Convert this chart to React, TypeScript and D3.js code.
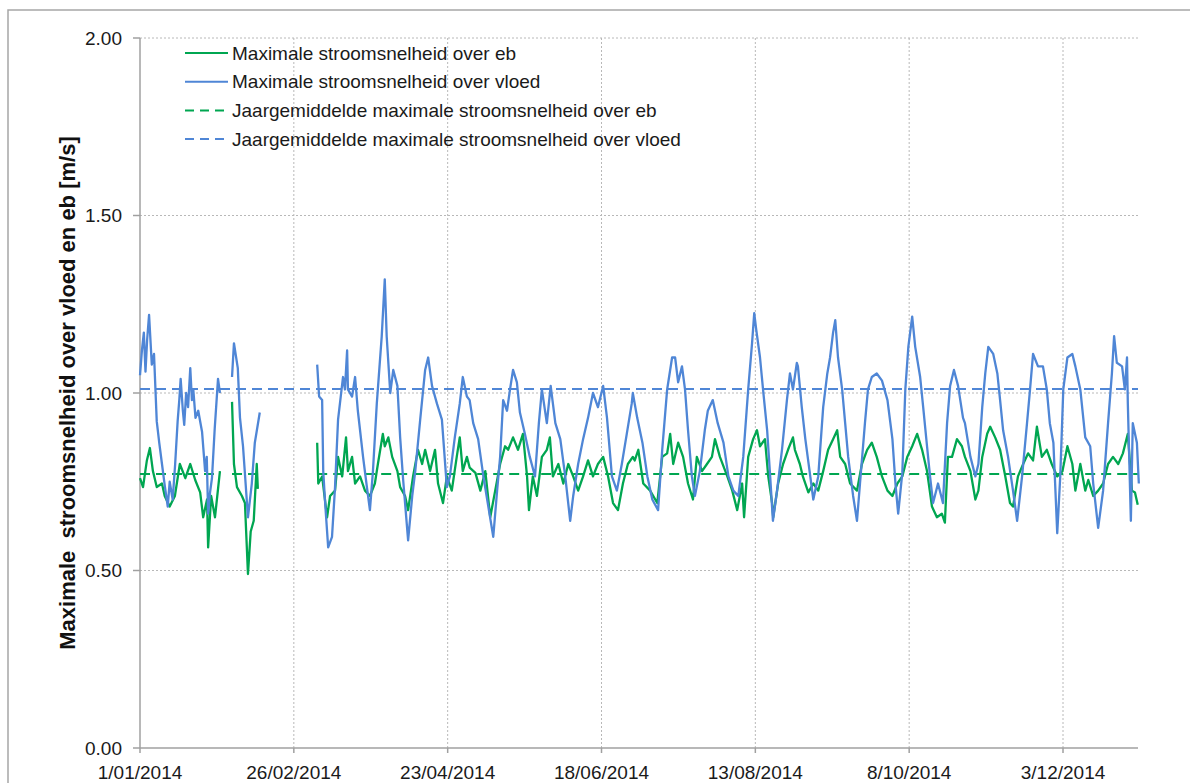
import React from "react";
import * as d3 from "d3";

// ---------- DATA (day offset from 1 Jan 2014, value in m/s) ----------
const tickDates = ["2014-01-01", "2014-02-26", "2014-04-23", "2014-06-18", "2014-08-13", "2014-10-08", "2014-12-03"];
const yTicks = [0, 0.5, 1.0, 1.5, 2.0];
const lastDay = 363.3;

const meanEb = 0.772;
const meanVloed = 1.011;

// data coverage (day ranges) of the eb / vloed records
const coverage: [number, number][] = [[0, 29.1], [33.5, 43.6], [64.5, 363.6]];

const vloed: ([number, number] | null)[] = [
  [0, 1.05], [0.7, 1.12], [1.4, 1.17], [2, 1.06], [2.6, 1.15], [3.3, 1.22], [4.3, 1.08], [5.1, 1.11], [6.1, 0.92], [7, 0.86],
  [8, 0.8], [9, 0.74], [10.1, 0.68], [10.8, 0.75], [11.9, 0.7], [12.8, 0.8], [13.7, 0.92], [14.3, 0.98], [14.8, 1.04], [15.6, 0.95],
  [16.1, 0.91], [16.8, 1.0], [17.5, 0.96], [18.3, 1.07], [18.9, 0.98], [19.4, 1.01], [20.2, 0.93], [21.2, 0.95], [22.6, 0.89], [23.7, 0.78],
  [24.3, 0.82], [24.8, 0.66], [25.5, 0.72], [26.2, 0.76], [27.2, 0.9], [28.4, 1.04], [29.1, 1.0],
  null,
  [33.5, 1.045], [34.2, 1.14], [35.6, 1.07], [36.4, 0.93], [37.5, 0.85], [39.3, 0.65], [40.7, 0.745], [41.8, 0.86], [43.6, 0.945],
  null,
  [64.5, 1.08], [65.2, 0.99], [66.3, 0.98], [66.7, 0.78], [67.4, 0.69], [68.5, 0.565], [69.9, 0.595], [71, 0.735], [72.1, 0.925], [73.9, 1.045],
  [74.6, 1.01], [75.4, 1.12], [75.7, 1.01], [77.2, 0.99], [78.3, 1.045], [79.3, 0.95], [81.2, 0.82], [82.6, 0.735], [83.7, 0.67], [84.8, 0.78],
  [86.2, 0.97], [88, 1.16], [89.1, 1.32], [89.8, 1.16], [91.1, 1.0], [92.2, 1.065], [93.7, 1.02], [94.7, 0.875], [95.8, 0.755], [97.6, 0.585],
  [99.1, 0.71], [100.2, 0.78], [102, 0.925], [103.8, 1.065], [104.9, 1.1], [106.3, 1.02], [108.1, 0.97], [109.9, 0.925], [111.7, 0.735], [112.8, 0.765],
  [114.6, 0.875], [116.4, 0.97], [117.5, 1.045], [119, 0.99], [120, 0.98], [121.3, 0.915], [123.1, 0.87], [125, 0.765], [126.8, 0.68], [128.6, 0.595],
  [130, 0.725], [131.1, 0.82], [132.2, 0.98], [133.6, 0.95], [134.7, 1.01], [135.8, 1.065], [137.2, 1.03], [138.3, 0.945], [140.1, 0.885], [141.9, 0.82],
  [143.8, 0.765], [145.2, 0.915], [146.3, 1.01], [148.1, 0.915], [149.5, 1.02], [151.2, 0.915], [153, 0.87], [154.8, 0.765], [156.6, 0.64], [157.7, 0.71],
  [159.5, 0.8], [161.3, 0.87], [163.1, 0.93], [164.9, 1.0], [166.7, 0.96], [168.6, 1.02], [170, 0.93], [171.8, 0.765], [173.6, 0.725], [175.4, 0.8],
  [177.2, 0.885], [179, 0.97], [179.4, 1.0], [181, 0.93], [182.9, 0.86], [184.7, 0.765], [186.5, 0.7], [188.6, 0.67], [190.1, 0.84], [191.9, 1.01],
  [193.7, 1.1], [194.8, 1.1], [195.9, 1.03], [197.3, 1.075], [198.4, 1.01], [199.5, 0.895], [200.9, 0.765], [202, 0.71], [203.8, 0.78], [205.6, 0.895],
  [206.7, 0.95], [208.5, 0.98], [210.3, 0.915], [212.4, 0.86], [214.2, 0.765], [216, 0.725], [217.8, 0.71], [219.6, 0.82], [221.4, 1.01], [222.8, 1.14],
  [223.6, 1.225], [224.3, 1.18], [225.7, 1.1], [226.8, 1.01], [228.3, 0.895], [229.4, 0.765], [230.4, 0.64], [231.9, 0.725], [233.7, 0.84], [235.5, 0.98],
  [236.6, 1.055], [237.7, 1.01], [239.1, 1.085], [239.5, 1.075], [240.9, 0.96], [242.2, 0.87], [244, 0.765], [245.1, 0.7], [246.9, 0.765], [248.7, 0.96],
  [250.2, 1.055], [251.2, 1.1], [252.3, 1.17], [253.1, 1.205], [254.1, 1.1], [255.6, 1.01], [256.7, 0.915], [257.8, 0.82], [259.6, 0.71], [261, 0.64],
  [262.1, 0.745], [263.9, 0.915], [265, 1.01], [266.4, 1.045], [268.2, 1.055], [270.1, 1.035], [272.1, 0.98], [273.9, 0.87], [275, 0.745], [276, 0.66],
  [277.5, 0.775], [278.6, 1.01], [279.7, 1.13], [281.1, 1.215], [282.2, 1.13], [284, 1.045], [285.1, 0.96], [286.5, 0.85], [287.6, 0.765], [288.7, 0.69],
  [290.5, 0.745], [292.3, 0.69], [293.8, 0.915], [294.9, 1.02], [296.3, 1.065], [297.8, 1.02], [299.6, 0.93], [300.3, 0.915], [302.3, 0.82], [304.1, 0.765],
  [305.2, 0.8], [306.6, 0.96], [307.7, 1.055], [308.8, 1.13], [310.6, 1.11], [312.1, 1.055], [313.1, 0.98], [314.2, 0.895], [316, 0.82], [317.8, 0.725],
  [319.3, 0.64], [321.1, 0.765], [322.9, 0.915], [324, 1.01], [325.1, 1.11], [326.9, 1.075], [328.7, 1.075], [330.1, 1.01], [331.2, 0.915], [332.5, 0.86],
  [333.9, 0.605], [335, 0.765], [336.1, 1.01], [337.6, 1.1], [339.4, 1.11], [340.5, 1.075], [342.3, 1.01], [344.1, 0.875], [345.9, 0.85], [347, 0.745],
  [348.8, 0.62], [350.6, 0.725], [352.4, 0.915], [353.8, 1.055], [354.6, 1.16], [355.6, 1.085], [357.5, 1.075], [358.5, 1.01], [359.3, 1.1], [359.6, 0.97],
  [360.7, 0.64], [361.4, 0.915], [362.9, 0.86], [363.6, 0.745],
];

const eb: ([number, number] | null)[] = [
  [0, 0.76], [1.1, 0.735], [2.5, 0.81], [3.6, 0.845], [4.7, 0.78], [6.1, 0.735], [8, 0.745], [9, 0.71], [10.8, 0.68], [12.7, 0.71],
  [14.5, 0.8], [16.5, 0.76], [18.3, 0.8], [20.1, 0.755], [21.9, 0.72], [23, 0.65], [24.4, 0.7], [24.8, 0.565], [25.9, 0.71], [27.3, 0.65],
  [29.1, 0.78],
  null,
  [33.5, 0.975], [34.2, 0.8], [35.3, 0.735], [37.1, 0.71], [38.2, 0.69], [39.3, 0.49], [40.3, 0.61], [41.4, 0.64], [42.5, 0.8], [42.9, 0.73],
  null,
  [64.5, 0.86], [64.9, 0.745], [66.3, 0.765], [68.1, 0.65], [69.2, 0.71], [71, 0.725], [72.1, 0.82], [73.6, 0.765], [75, 0.875], [75.7, 0.78],
  [77.2, 0.82], [78.3, 0.745], [80.1, 0.765], [81.9, 0.725], [83.7, 0.71], [85.5, 0.745], [86.6, 0.8], [88.4, 0.885], [89.1, 0.85], [90.4, 0.875],
  [91.8, 0.82], [93.7, 0.78], [94.7, 0.735], [96.5, 0.71], [97.6, 0.67], [99.4, 0.765], [101.2, 0.84], [102.7, 0.8], [103.8, 0.84], [105.6, 0.78],
  [107.4, 0.84], [108.5, 0.745], [110.3, 0.69], [111.7, 0.765], [113.5, 0.725], [115.3, 0.82], [116.4, 0.875], [117.5, 0.78], [119, 0.82], [120, 0.79],
  [122.1, 0.775], [123.9, 0.725], [125.7, 0.78], [127.5, 0.65], [129.3, 0.725], [131.1, 0.8], [132.9, 0.85], [134, 0.84], [135.8, 0.875], [137.6, 0.84],
  [139.4, 0.885], [140.9, 0.765], [141.6, 0.67], [143, 0.765], [144.5, 0.71], [146.3, 0.82], [148.1, 0.84], [149.2, 0.875], [150.3, 0.765], [152.3, 0.8],
  [154.1, 0.745], [155.9, 0.8], [157.7, 0.765], [159.5, 0.725], [161.3, 0.765], [163.1, 0.81], [164.9, 0.765], [166.7, 0.8], [168.6, 0.82], [170.4, 0.765],
  [172.2, 0.69], [174, 0.67], [175.8, 0.745], [177.6, 0.8], [179.4, 0.82], [180.1, 0.81], [181.4, 0.84], [183.2, 0.745], [185.7, 0.725], [188.3, 0.69],
  [190.1, 0.82], [191.9, 0.83], [193, 0.885], [194.1, 0.8], [195.9, 0.86], [197.7, 0.82], [199.5, 0.745], [201.3, 0.7], [202.7, 0.82], [204.6, 0.78],
  [206.4, 0.8], [208.2, 0.82], [209.3, 0.87], [211.1, 0.82], [213.8, 0.765], [215.6, 0.725], [217.4, 0.67], [219.2, 0.745], [219.9, 0.65], [221.4, 0.82],
  [223.2, 0.87], [224.6, 0.895], [225.7, 0.85], [227.5, 0.87], [228.7, 0.765], [230.1, 0.69], [230.5, 0.65], [232.3, 0.745], [234.1, 0.8], [235.9, 0.84],
  [237.7, 0.875], [238.4, 0.84], [240.2, 0.8], [241.3, 0.765], [243.3, 0.72], [245.1, 0.745], [246.9, 0.725], [248.7, 0.78], [250.5, 0.84], [252.3, 0.87],
  [253.8, 0.895], [254.9, 0.82], [256.7, 0.8], [258.5, 0.745], [261, 0.725], [262.8, 0.8], [264.7, 0.84], [266.4, 0.86], [268.2, 0.82], [270.1, 0.765],
  [272.1, 0.725], [273.9, 0.71], [275.7, 0.745], [277.5, 0.765], [279.3, 0.82], [281.1, 0.85], [282.9, 0.885], [284.7, 0.84], [286.5, 0.78], [288.3, 0.68],
  [290.1, 0.65], [291.9, 0.66], [293, 0.635], [294.1, 0.82], [295.6, 0.82], [297.4, 0.87], [299.2, 0.85], [300.3, 0.82], [302.3, 0.78], [304.1, 0.7],
  [305.2, 0.725], [306.6, 0.82], [308.4, 0.885], [309.5, 0.905], [311.3, 0.875], [313.1, 0.84], [315, 0.765], [316.7, 0.69], [317.8, 0.68], [319.6, 0.765],
  [321.5, 0.8], [323.3, 0.83], [325.1, 0.81], [326.5, 0.905], [328.3, 0.82], [330.1, 0.84], [331.9, 0.8], [333.9, 0.765], [335.8, 0.78], [337.6, 0.85],
  [339.4, 0.8], [340.5, 0.725], [342.3, 0.8], [344.1, 0.725], [345.2, 0.755], [347, 0.71], [348.8, 0.725], [350.6, 0.745], [352.4, 0.8], [354.2, 0.82],
  [356.1, 0.8], [357.8, 0.83], [359.6, 0.885], [361.1, 0.725], [362.2, 0.72], [363.2, 0.685],
];

const legendItems = [
  { label: "Maximale stroomsnelheid over eb", color: "#00a651", dashed: false },
  { label: "Maximale stroomsnelheid over vloed", color: "#4f86d6", dashed: false },
  { label: "Jaargemiddelde maximale stroomsnelheid over eb", color: "#00a651", dashed: true },
  { label: "Jaargemiddelde maximale stroomsnelheid over vloed", color: "#4f86d6", dashed: true },
];

const yTitle = "Maximale  stroomsnelheid over vloed en eb [m/s]";

// ---------- CHART ----------
const W = 1190, H = 783;
const M = { left: 140, right: 1138, top: 38, bottom: 748 };
const FONT = "'Liberation Sans', Arial, sans-serif";
const START = Date.UTC(2014, 0, 1);
const dayToDate = (d: number) => new Date(START + d * 86400000);

export default function App() {
  const x = d3.scaleUtc().domain([dayToDate(0), dayToDate(lastDay)]).range([M.left, M.right]);
  const y = d3.scaleLinear().domain([0, 2]).range([M.bottom, M.top]);
  const fmt = d3.utcFormat("%-d/%m/%Y");
  const ticks = tickDates.map((s) => new Date(s + "T00:00:00Z"));

  const line = d3
    .line<[number, number] | null>()
    .defined((p) => p !== null)
    .x((p) => x(dayToDate((p as [number, number])[0])))
    .y((p) => y((p as [number, number])[1]));

  const ebMeanPts: ([number, number] | null)[] = [];
  coverage.forEach(([a, b], i) => {
    if (i > 0) ebMeanPts.push(null);
    ebMeanPts.push([a, meanEb], [Math.min(b, lastDay), meanEb]);
  });
  const vloedMeanPts: [number, number][] = [[0, meanVloed], [lastDay, meanVloed]];

  return (
    <svg width={W} height={H} style={{ position: "absolute", left: 0, top: 0, background: "#fff" }} fontFamily={FONT}>
      <rect x={8} y={10} width={1200} height={800} fill="#fff" stroke="#a6a6a6" strokeWidth={1.5} />
      {/* horizontal grid */}
      {yTicks.filter((t) => t > 0).map((t) => (
        <line key={"hg" + t} x1={M.left} x2={M.right} y1={y(t)} y2={y(t)} stroke="#b8b8b8" strokeWidth={1} strokeDasharray="2,2" />
      ))}
      {/* vertical grid */}
      {ticks.slice(1).map((t, i) => (
        <line key={"vg" + i} x1={x(t)} x2={x(t)} y1={M.top} y2={M.bottom} stroke="#b8b8b8" strokeWidth={1} strokeDasharray="2,2" />
      ))}
      {/* axes */}
      <line x1={M.left} x2={M.left} y1={M.top} y2={M.bottom} stroke="#a0a0a0" strokeWidth={1.5} />
      <line x1={M.left} x2={M.right} y1={M.bottom} y2={M.bottom} stroke="#a0a0a0" strokeWidth={1.5} />
      {yTicks.map((t) => (
        <g key={"yt" + t}>
          <line x1={M.left - 7} x2={M.left} y1={y(t)} y2={y(t)} stroke="#a0a0a0" strokeWidth={1.5} />
          <text x={122} y={y(t)} dy="0.35em" textAnchor="end" fontSize={19} fill="#1a1a1a">
            {d3.format(".2f")(t)}
          </text>
        </g>
      ))}
      {ticks.map((t, i) => (
        <g key={"xt" + i}>
          <line x1={x(t)} x2={x(t)} y1={M.bottom} y2={M.bottom + 5} stroke="#a0a0a0" strokeWidth={1.5} />
          <text x={x(t)} y={779} textAnchor="middle" fontSize={19} fill="#1a1a1a">
            {fmt(t)}
          </text>
        </g>
      ))}
      {/* mean lines */}
      <path d={line(ebMeanPts) || ""} fill="none" stroke="#00a651" strokeWidth={2} strokeDasharray="10,6" />
      <path d={line(vloedMeanPts) || ""} fill="none" stroke="#4f86d6" strokeWidth={2} strokeDasharray="10,6" />
      {/* data */}
      <path d={line(eb) || ""} fill="none" stroke="#00a651" strokeWidth={2.3} strokeLinejoin="round" />
      <path d={line(vloed) || ""} fill="none" stroke="#4f86d6" strokeWidth={2.3} strokeLinejoin="round" />
      {/* legend */}
      {legendItems.map((it, i) => {
        const ly = 53 + i * 28.7;
        return (
          <g key={"lg" + i}>
            <line x1={185} x2={228} y1={ly} y2={ly} stroke={it.color} strokeWidth={2} strokeDasharray={it.dashed ? "9,6" : undefined} />
            <text x={232} y={ly} dy="0.35em" fontSize={19} fill="#1a1a1a">
              {it.label}
            </text>
          </g>
        );
      })}
      {/* y title */}
      <text
        transform={`translate(75,${(M.top + M.bottom) / 2}) rotate(-90)`}
        textAnchor="middle"
        fontSize={22}
        fontWeight="bold"
        fill="#111"
        style={{ whiteSpace: "pre" }}
      >
        {yTitle}
      </text>
    </svg>
  );
}
